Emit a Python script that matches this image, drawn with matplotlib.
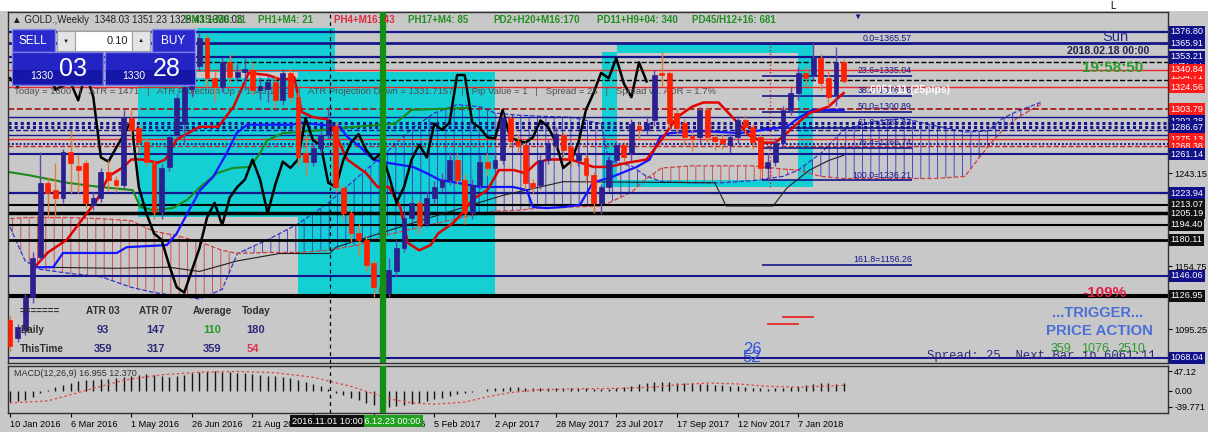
import numpy as np
import matplotlib
matplotlib.use('Agg')
import matplotlib.pyplot as plt
import matplotlib.transforms as mtransforms
from matplotlib.patches import Rectangle

plt.rcParams['font.family'] = ['Liberation Sans', 'DejaVu Sans']
plt.rcParams['hatch.linewidth'] = 0.6

W, H = 1208, 432
BG = '#c8c8c8'
NAVY = '#16168c'
CYAN = '#14d0d5'
UP = '#2c1f8e'
DOWN = '#ff2000'
RED = '#e82828'
GREEN = '#1f8f1f'

# weekly GOLD bars, bar 0 = week of 10 Jan 2016
opens = [1104, 1087, 1095, 1126, 1164, 1234, 1227, 1220, 1263, 1250,
         1253, 1213, 1220, 1244, 1237, 1232, 1295, 1286, 1273, 1253,
         1206, 1249, 1279, 1290, 1323, 1345, 1371, 1333, 1325, 1348,
         1334, 1339, 1341, 1322, 1323, 1329, 1312, 1338, 1315, 1262,
         1254, 1267, 1279, 1288, 1229, 1205, 1186, 1180, 1158, 1135,
         1130, 1150, 1172, 1201, 1215, 1195, 1220, 1230, 1237, 1256,
         1237, 1205, 1232, 1254, 1248, 1256, 1295, 1274, 1270, 1234,
         1232, 1256, 1270, 1279, 1268, 1256, 1257, 1241, 1215, 1230,
         1256, 1270, 1262, 1288, 1284, 1293, 1338, 1338, 1300, 1291,
         1278, 1277, 1303, 1277, 1275, 1270, 1277, 1293, 1287, 1277,
         1248, 1254, 1272, 1303, 1319, 1338, 1336, 1352, 1333, 1317, 1348]
closes = [1079, 1097, 1126, 1163, 1234, 1224, 1220, 1263, 1253, 1246,
          1215, 1220, 1244, 1237, 1232, 1296, 1284, 1273, 1254, 1206,
          1248, 1277, 1314, 1325, 1340, 1371, 1333, 1325, 1348, 1334,
          1339, 1342, 1322, 1326, 1329, 1312, 1338, 1315, 1258, 1254,
          1267, 1279, 1293, 1230, 1205, 1186, 1180, 1156, 1135, 1130,
          1151, 1172, 1201, 1215, 1194, 1220, 1230, 1237, 1256, 1237,
          1205, 1232, 1254, 1248, 1256, 1295, 1274, 1270, 1234, 1230,
          1256, 1272, 1280, 1265, 1256, 1262, 1241, 1215, 1230, 1256,
          1270, 1258, 1290, 1284, 1291, 1336, 1336, 1291, 1286, 1277,
          1276, 1303, 1277, 1274, 1272, 1277, 1293, 1287, 1273, 1248,
          1254, 1272, 1303, 1319, 1338, 1333, 1352, 1328, 1315, 1348, 1330]
highs = [1108, 1100, 1130, 1168, 1263, 1239, 1253, 1266, 1284, 1260,
         1256, 1225, 1248, 1256, 1240, 1303, 1305, 1290, 1276, 1255,
         1252, 1280, 1318, 1330, 1345, 1377, 1375, 1340, 1352, 1356,
         1346, 1352, 1348, 1334, 1337, 1336, 1342, 1343, 1320, 1280,
         1272, 1283, 1306, 1292, 1232, 1208, 1195, 1184, 1161, 1138,
         1163, 1180, 1206, 1220, 1218, 1225, 1236, 1243, 1263, 1262,
         1242, 1238, 1260, 1262, 1262, 1300, 1298, 1280, 1273, 1238,
         1260, 1275, 1287, 1282, 1270, 1268, 1262, 1244, 1233, 1260,
         1274, 1273, 1294, 1292, 1297, 1341, 1358, 1340, 1304, 1294,
         1284, 1306, 1306, 1282, 1280, 1282, 1297, 1298, 1290, 1280,
         1262, 1276, 1307, 1325, 1344, 1345, 1366, 1356, 1340, 1363, 1351]
lows = [1075, 1083, 1090, 1120, 1160, 1201, 1201, 1215, 1224, 1224,
        1210, 1208, 1216, 1226, 1225, 1228, 1278, 1262, 1250, 1200,
        1200, 1245, 1275, 1270, 1315, 1340, 1325, 1310, 1320, 1328,
        1330, 1322, 1318, 1312, 1310, 1305, 1308, 1310, 1250, 1240,
        1250, 1262, 1275, 1225, 1200, 1178, 1165, 1150, 1126, 1124,
        1126, 1146, 1168, 1196, 1185, 1192, 1214, 1226, 1232, 1232,
        1195, 1200, 1228, 1240, 1243, 1252, 1270, 1262, 1228, 1224,
        1228, 1252, 1265, 1258, 1250, 1250, 1235, 1205, 1204, 1226,
        1252, 1254, 1255, 1276, 1280, 1288, 1326, 1286, 1280, 1270,
        1264, 1272, 1272, 1265, 1266, 1262, 1272, 1280, 1266, 1238,
        1236, 1250, 1268, 1298, 1312, 1326, 1330, 1322, 1307, 1307, 1328]

# indicator lines: (bar, price)
tenkan_pts = [(3.5, 1156), (5, 1168), (7.5, 1180), (9.5, 1199), (11.5, 1218), (13, 1240),
              (15, 1249), (16, 1256), (17.5, 1256), (19.5, 1253), (20.5, 1256), (22, 1275),
              (23.5, 1281), (25, 1287), (27.5, 1287), (29.5, 1306), (31.5, 1338), (34, 1336),
              (36, 1331), (37.5, 1334), (38.5, 1301), (40, 1296), (42, 1294), (44.5, 1256),
              (47, 1243), (48.5, 1230), (50, 1230), (51.5, 1211), (52.5, 1177), (54, 1170),
              (55.5, 1175), (56.5, 1186), (58.5, 1196), (60, 1208), (61, 1218), (63, 1227),
              (64.5, 1246), (66.5, 1246), (68, 1243), (69.5, 1253), (71, 1256), (74, 1256),
              (77, 1249), (79, 1249), (81.5, 1253), (84, 1256), (86, 1275), (88, 1296),
              (90, 1306), (91.5, 1310), (93.5, 1310), (96, 1291), (97.5, 1279), (99.5, 1272),
              (101, 1272), (102.5, 1281), (104, 1291), (105.5, 1300), (108, 1306), (110, 1319)]
kijun_pts = [(3.6, 1154), (5.7, 1154), (7, 1167.5), (9.6, 1167.5), (14.1, 1167.5), (15.4, 1173),
             (20.7, 1175), (22, 1186), (23.4, 1205), (25.1, 1227), (26.8, 1239.5), (28.6, 1262),
             (29.9, 1281), (31.3, 1289), (37.3, 1289), (38.3, 1291), (43.5, 1287), (44.5, 1277.5),
             (46.2, 1268), (47.9, 1256), (49.7, 1253), (53.2, 1249), (55, 1243), (56.7, 1236.6),
             (58.4, 1234.7), (62, 1230), (66.4, 1230), (68.2, 1227), (69, 1211), (70.8, 1210),
             (73, 1211), (75.2, 1213), (76.9, 1234), (79.6, 1240), (82.7, 1249), (84.4, 1256),
             (85.8, 1277.5), (87.1, 1281), (91, 1283), (96.3, 1281), (102.5, 1287),
             (104.2, 1296), (105.9, 1303), (110, 1303)]
slow_pts = [(0, 1244), (2.6, 1241), (7.5, 1234), (11.9, 1230), (16.2, 1227), (17.2, 1211),
            (18.9, 1208), (21.5, 1210), (23.4, 1218), (25.1, 1230), (27.3, 1243), (29.4, 1248),
            (31.7, 1249), (33, 1262), (33.9, 1274), (36, 1281), (38.3, 1282), (44, 1286),
            (50.8, 1290), (53, 1303), (60.7, 1305)]
thin_pts = [(4.4, 1154), (14, 1153), (21, 1154), (25, 1150), (30, 1160), (35.6, 1167),
            (42.2, 1167), (43, 1173), (55, 1200), (65, 1222), (73, 1235), (93, 1234),
            (94.5, 1212), (100.7, 1212), (102.5, 1229), (105.5, 1246), (108, 1255), (110, 1260)]

# ichimoku cloud edges
cloud_idx = [0, 2, 4, 8, 12, 16, 19, 22, 25, 28, 30, 34, 38, 42, 46, 50, 53, 56, 59, 62,
             64, 67, 70, 74, 78, 79, 82, 84, 86, 90, 94, 98, 102, 104, 107, 110, 114, 118, 122, 126,
             129, 131, 133, 136]
span_a = [1192, 1160, 1152, 1148, 1145, 1135, 1130, 1127, 1124, 1133, 1167, 1180, 1195, 1215, 1240,
          1265, 1285, 1300, 1308, 1306, 1300, 1298, 1297, 1296, 1290, 1255, 1250, 1240, 1235, 1234,
          1234, 1236, 1240, 1246, 1262, 1284, 1292, 1295, 1288, 1282, 1283, 1295, 1302, 1310]
span_b = [1200, 1201, 1201, 1201, 1200, 1198, 1188, 1184, 1178, 1170, 1167, 1168, 1168, 1170, 1175,
          1185, 1190, 1195, 1200, 1205, 1207, 1208, 1210, 1211, 1212, 1215, 1225, 1238, 1248, 1250,
          1250, 1250, 1247, 1246, 1240, 1238, 1238, 1238, 1238, 1240, 1268, 1284, 1296, 1308]

# MACD histogram per bar and signal line
macd_hist = [-28, -26, -22, -16, -6, 2, 8, 13, 18, 22,
             25, 26, 27, 29, 30, 32, 35, 38, 39, 37,
             34, 33, 35, 38, 42, 45, 47, 46, 45, 44,
             43, 42, 40, 38, 36, 34, 33, 30, 25, 20,
             15, 10, 4, -5, -12, -18, -24, -30, -34, -37,
             -39, -38, -36, -33, -29, -25, -21, -17, -13, -9,
             -6, -3, 0, 3, 5, 7, 8, 8, 7, 6,
             5, 5, 6, 7, 7, 6, 5, 4, 3, 4,
             6, 9, 12, 15, 18, 20, 21, 20, 19, 18,
             17, 16, 15, 14, 13, 12, 11, 9, 7, 5,
             4, 5, 7, 9, 11, 13, 15, 17, 17, 16, 17]
signal_pts = [(0, -30), (5, -25), (10, 0), (15, 25), (20, 38), (25, 44), (30, 46), (35, 43),
              (40, 32), (45, 10), (50, -20), (53, -30), (56, -33), (60, -28), (63, -15),
              (66, -5), (70, 2), (75, 4), (80, 5), (85, 8), (88, 14), (92, 18), (96, 16),
              (100, 10), (104, 8), (107, 10), (110, 12.37)]

# levels
DOTS = (0, (1, 1))
hlines = [(1376.80, NAVY, 1.6, '-'), (1365.91, NAVY, 2.0, '-'), (1353.21, NAVY, 1.6, '-'),
          (1348.0, 'black', 1.0, '--'), (1340.84, RED, 1.0, '-'), (1331.3, 'black', 1.0, '--'),
          (1324.56, RED, 1.0, '-'), (1303.79, '#a01010', 1.2, '--'), (1296.3, NAVY, 1.0, '-'),
          (1291.0, NAVY, 2.2, DOTS), (1287.0, NAVY, 2.2, DOTS),
          (1283.5, NAVY, 1.0, '--'), (1279.5, NAVY, 1.0, '-'), (1275.13, RED, 1.0, '-'),
          (1271.0, NAVY, 1.4, DOTS), (1268.38, '#c02020', 1.0, '--'),
          (1261.14, NAVY, 1.5, '-'), (1223.94, NAVY, 1.6, '-'), (1213.07, 'black', 1.5, '-'),
          (1205.19, 'black', 2.5, '-'), (1194.40, 'black', 1.5, '-'), (1180.11, 'black', 2.0, '-'),
          (1146.06, NAVY, 1.5, '-'), (1127.6, 'black', 1.5, '-'), (1125.4, 'black', 1.5, '-'),
          (1068.04, NAVY, 1.5, '-')]
fib_names = ['0.0', '23.6', '38.2', '50.0', '61.8', '76.4', '100.0', '161.8']
fib_levels = [1365.57, 1335.04, 1316.16, 1300.89, 1285.63, 1266.74, 1236.21, 1156.26]
label_prices = [1347.71, 1334.71, 1292.28, 1376.80, 1365.91, 1353.21, 1340.84, 1324.56, 1303.79,
                1286.67, 1275.13, 1268.38, 1261.14, 1223.94, 1213.07, 1205.19, 1194.40, 1180.11,
                1146.06, 1126.95, 1068.04]
label_kinds = ['n', 'r', 'n', 'n', 'n', 'n', 'r', 'r', 'r',
               'n', 'r', 'r', 'n', 'n', 'k', 'k', 'k', 'k',
               'n', 'k', 'n']
plain_ticks = [1243.15, 1154.75, 1095.25]

cyan_boxes = [(16.9, 38.0, 1202, 1333), (24.7, 42.9, 1339, 1381), (38.0, 64.0, 1126, 1339),
              (78.1, 80.1, 1230, 1358), (80.1, 105.9, 1357, 1366.4),
              (104.0, 105.9, 1230, 1366.4), (78.1, 105.9, 1230, 1236.5)]

date_ticks = list(range(0, 105, 8))
date_labels = ['10 Jan 2016', '6 Mar 2016', '1 May 2016', '26 Jun 2016', '21 Aug 2016',
               '16 Oct 2016', '11 Dec 2016', '5 Feb 2017', '2 Apr 2017', '28 May 2017',
               '23 Jul 2017', '17 Sep 2017', '12 Nov 2017', '7 Jan 2018']

# ---------------------------------------------------------------- figure
fig = plt.figure(figsize=(W / 100, H / 100), dpi=100, facecolor=BG)


def box(x0, y0, x1, y1):
    return [x0 / W, 1 - y1 / H, (x1 - x0) / W, (y1 - y0) / H]


ax = fig.add_axes(box(8, 12, 1168, 363))
axm = fig.add_axes(box(8, 366, 1168, 413))
ov = fig.add_axes([0, 0, 1, 1], zorder=5)
ov.set_xlim(0, W)
ov.set_ylim(H, 0)
ov.axis('off')
ov.patch.set_alpha(0)

XL = (-0.26, 152.8)
ax.set_xlim(*XL)
ax.set_ylim(1063.3, 1395.7)
ax.set_facecolor(BG)
for s in list(ax.spines.values()) + list(axm.spines.values()):
    s.set_color('#303030')
    s.set_linewidth(1)

for x0, x1, p0, p1 in cyan_boxes:
    ax.add_patch(Rectangle((x0, p0), x1 - x0, p1 - p0, fc=CYAN, ec='none', zorder=0.5))

# cloud
cx, sa, sb = np.array(cloud_idx), np.array(span_a), np.array(span_b)
ax.fill_between(cx, sa, sb, where=sa >= sb, interpolate=True, facecolor='none',
                edgecolor='#3434c8', hatch='||', linewidth=0, zorder=1)
ax.fill_between(cx, sa, sb, where=sa < sb, interpolate=True, facecolor='none',
                edgecolor='#d04040', hatch='||', linewidth=0, zorder=1)
ax.plot(cx, sa, color='#3434c8', ls='--', lw=0.9, zorder=1.1)
ax.plot(cx, sb, color='#d04040', ls='--', lw=0.9, zorder=1.1)

for p, col, lw, ls in hlines:
    ax.axhline(p, color=col, lw=lw, ls=ls, zorder=1.5)

# fib labels and underlines
ax.hlines(fib_levels, 99.2, 119.0, colors=NAVY, lw=1.2, zorder=1.6)
for n, p in zip(fib_names, fib_levels):
    ax.text(119.0, p + 0.8, f'{n}={p:.2f}', ha='right', va='bottom', fontsize=6.3,
            color=NAVY, zorder=3.5)

# indicator lines
for pts, col, lw in [(slow_pts, '#1a8a1a', 1.5), (thin_pts, '#202020', 0.8),
                     (kijun_pts, '#1414ff', 1.6), (tenkan_pts, '#e00000', 1.8)]:
    xs, ys = zip(*pts)
    ax.plot(xs, ys, color=col, lw=lw, zorder=2)

# candles
idx = np.arange(len(opens))
o, c, hi, lo = map(np.array, (opens, closes, highs, lows))
up = c >= o
ax.vlines(idx[up], lo[up], hi[up], colors='#6b44a8', lw=1, zorder=3)
ax.vlines(idx[~up], lo[~up], hi[~up], colors='#e07a3a', lw=1, zorder=3)
ax.bar(idx[up], c[up] - o[up], bottom=o[up], width=0.64, color=UP, ec=UP, lw=0.5, zorder=3.2)
ax.bar(idx[~up], o[~up] - c[~up], bottom=c[~up], width=0.64, color=DOWN, ec=DOWN, lw=0.5,
       zorder=3.2)

# lagging span: closes shifted back 26 bars
ax.plot(idx[:len(c) - 26], c[26:], color='black', lw=1.8, zorder=2.6)

# verticals
for a in (ax, axm):
    a.axvline(49.2, color='#139013', lw=4.5, zorder=4)
    a.axvline(42.2, color='black', lw=0.9, ls=(0, (3, 3)), zorder=4)
ax.vlines(100.3, 1230, 1366, colors='#c03030', lw=1, linestyles=':', zorder=2)

# right price scale
ax.set_xticks([])
ax.yaxis.tick_right()
ax.set_yticks(plain_ticks)
ax.set_yticklabels([f'{p:.2f}' for p in plain_ticks], fontsize=6.6)
ax.tick_params(axis='y', length=3, pad=1.5, width=0.8)
trans = mtransforms.blended_transform_factory(ax.transAxes, ax.transData)
kind_col = {'n': '#10108a', 'r': '#ff1a1a', 'k': '#101010'}
for p, k in zip(label_prices, label_kinds):
    ax.text(1.0022, p, f'{p:.2f}', transform=trans, ha='left', va='center', fontsize=6.6,
            color='white', clip_on=False, zorder=10,
            bbox=dict(boxstyle='square,pad=0.16', fc=kind_col[k], ec='none'))

# MACD panel
axm.set_facecolor(BG)
axm.set_xlim(*XL)
axm.set_ylim(-54.3, 59.2)
axm.vlines(idx, 0, macd_hist, colors='#151515', lw=1, zorder=2)
sx, sy = zip(*signal_pts)
axm.plot(sx, sy, color='#e04848', ls=(0, (2, 2)), lw=0.9, zorder=3)
axm.yaxis.tick_right()
axm.set_yticks([47.12, 0, -39.771])
axm.set_yticklabels(['47.12', '0.00', '-39.771'], fontsize=6.6)
axm.tick_params(axis='y', length=3, pad=1.5, width=0.8)
axm.set_xticks(date_ticks)
axm.set_xticklabels(date_labels, fontsize=6.6)
for t in axm.get_xticklabels():
    t.set_ha('left')
axm.tick_params(axis='x', length=3, pad=2, width=0.8)

# ---------------------------------------------------------------- overlay texts
ov.add_patch(Rectangle((0, 0), W, 11, fc='white', ec='none'))
ov.text(1110, 6, 'L', fontsize=7, color='black', va='center')

ov.text(12, 20, '\u25b2 GOLD.,Weekly  1348.03 1351.23 1328.43 1330.03', fontsize=7,
        color='#202020', va='center')
hdr = [(246, 'PM15+M6: 11', GREEN, 'right'), (258, 'PH1+M4: 21', GREEN, 'left'),
       (334, 'PH4+M16: 43', '#e02840', 'left'), (408, 'PH17+M4: 85', GREEN, 'left'),
       (493, 'PD2+H20+M16:170', GREEN, 'left'), (597, 'PD11+H9+04: 340', GREEN, 'left'),
       (692, 'PD45/H12+16: 681', GREEN, 'left')]
for x, s, col, ha in hdr:
    ov.text(x, 20, s, fontsize=7, color=col, fontweight='bold', va='center', ha=ha)
ov.text(857, 17, '\u25bc', fontsize=6, color=NAVY, ha='center', va='center')

# trade panel
ov.add_patch(Rectangle((12, 29), 43, 23, fc='#2a2acc', ec='#8a8aee', lw=1))
ov.add_patch(Rectangle((152, 29), 43, 23, fc='#2a2acc', ec='#8a8aee', lw=1))
ov.add_patch(Rectangle((57, 31), 18, 20, fc='#e4e4e4', ec='#a0a0a0', lw=0.8))
ov.add_patch(Rectangle((75, 31), 57, 20, fc='white', ec='#a0a0a0', lw=0.8))
ov.add_patch(Rectangle((132, 31), 18, 20, fc='#e4e4e4', ec='#a0a0a0', lw=0.8))
for x0 in (12, 105):
    ov.add_patch(Rectangle((x0, 52), 91 if x0 == 12 else 90, 33, fc='#2424c4',
                           ec='#7a7ae4', lw=1))
    ov.add_patch(Rectangle((x0 + 1, 70), 89, 14, fc='#1616a8', ec='none'))
ov.text(33, 41, 'SELL', fontsize=8.5, color='white', ha='center', va='center')
ov.text(173, 41, 'BUY', fontsize=8.5, color='white', ha='center', va='center')
ov.text(66, 41, '\u25bc', fontsize=4.5, color='#202020', ha='center', va='center')
ov.text(141, 41, '\u25b2', fontsize=4.5, color='#202020', ha='center', va='center')
ov.text(128, 41, '0.10', fontsize=8, color='#202020', ha='right', va='center')
ov.text(42, 76, '1330', fontsize=7.5, color='white', ha='center', va='center')
ov.text(73, 69, '03', fontsize=18, color='white', ha='center', va='center')
ov.text(134, 76, '1330', fontsize=7.5, color='white', ha='center', va='center')
ov.text(167, 69, '28', fontsize=18, color='white', ha='center', va='center')

ax.text(14, 92, 'Today = 1600   |   ATR = 1471   |   ATR Projection Up = 1343.1443   |   '
        'ATR Projection Down = 1331.7157   |   Pip Value = 1   |   Spread = 25   |   '
        'Spread vs. ADR = 1.7%', transform=ov.transData, fontsize=6.8, color='#505050',
        va='center', zorder=2.8)

# top right clock block
ov.text(1115, 37, 'Sun', fontsize=10.5, color='#2a2a8a', ha='center', va='center')
ov.text(1108, 51, '2018.02.18 00:00', fontsize=7.6, color='#22224a', fontweight='bold',
        ha='center', va='center')
ov.text(1113, 68, '19:58:50', fontsize=11, color='#2e9a2e', fontweight='bold',
        ha='center', va='center')
ov.text(870, 90, '6051:11 (25pips)', fontsize=7.5, color='white', fontweight='bold',
        va='center')

# ATR table
tbl_y = [311, 330, 349]
tbl_x = [103, 156, 212, 256]
ov.text(20, tbl_y[0], '=======', fontsize=7.2, color='#303030', fontweight='bold', va='center')
for x, s in zip(tbl_x, ['ATR 03', 'ATR 07', 'Average', 'Today']):
    ov.text(x, tbl_y[0], s, fontsize=7.2, color='#303030', fontweight='bold', ha='center',
            va='center')
ov.text(20, tbl_y[1], 'Daily', fontsize=7.2, color='#303030', fontweight='bold', va='center')
ov.text(20, tbl_y[2], 'ThisTime', fontsize=7.2, color='#303030', fontweight='bold', va='center')
for x, s, col in zip(tbl_x, ['93', '147', '110', '180'], ['#2a2a7a', '#2a2a7a', '#2a9a2a', '#2a2a7a']):
    ov.text(x, tbl_y[1], s, fontsize=8, color=col, fontweight='bold', ha='center', va='center')
for x, s, col in zip(tbl_x, ['359', '317', '359', '54'], ['#2a2a7a', '#2a2a7a', '#2a2a7a', '#e03050']):
    ov.text(x - (3 if s == '54' else 0), tbl_y[2], s, fontsize=8, color=col, fontweight='bold',
            ha='center', va='center')

# bottom right labels
ov.plot([768, 798], [324, 324], color=RED, lw=1.3)
ov.plot([783, 813], [317, 317], color=RED, lw=1.3)
ov.text(752, 350, '26', fontsize=12, color='#3355dd', ha='center', va='center')
ov.text(752, 358, '52', fontsize=12, color='#3355dd', ha='center', va='center')
ov.text(1104, 293, '-109%', fontsize=11, color='#e02040', fontweight='bold', ha='center',
        va='center')
ov.text(1098, 313, '...TRIGGER...', fontsize=10.5, color='#4a70d8', fontweight='bold',
        ha='center', va='center')
ov.text(1099, 331, 'PRICE ACTION', fontsize=10.8, color='#4a70d8', fontweight='bold',
        ha='center', va='center')
ov.text(927, 356, 'Spread: 25  Next Bar in 6061:11', fontsize=8.8, color='#2a2a7a',
        family='Liberation Mono', va='center')
for x, s in [(1061, '359'), (1095, '1076'), (1131, '2510')]:
    ov.text(x, 349, s, fontsize=9, color='#2f9a2f', ha='center', va='center')

ov.text(14, 373, 'MACD(12,26,9) 16.955 12.370', fontsize=6.5, color='#303030', va='center')

# date boxes on the time scale
ov.text(385, 421, '2016.12.23 00:00', fontsize=6.6, color='white', ha='center', va='center',
        bbox=dict(boxstyle='square,pad=0.2', fc='#22a022', ec='none'))
ov.text(327, 421, '2016.11.01 10:00', fontsize=6.6, color='white', ha='center', va='center',
        bbox=dict(boxstyle='square,pad=0.2', fc='#101010', ec='none'))

fig.savefig('out.png', dpi=100, facecolor=BG)
